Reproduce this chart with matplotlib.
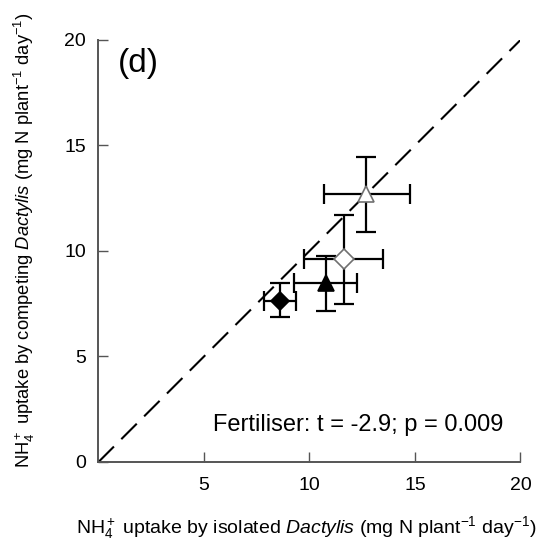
import matplotlib
matplotlib.use("Agg")
import matplotlib.pyplot as plt

plt.rcParams['font.family'] = ['Liberation Sans', 'DejaVu Sans']
plt.rcParams['mathtext.fontset'] = 'custom'
plt.rcParams['mathtext.rm'] = 'Liberation Sans'
plt.rcParams['mathtext.it'] = 'Liberation Sans:italic'

# NH4+ uptake (mg N plant-1 day-1): isolated (x) vs competing (y) Dactylis
labels = ['filled diamond', 'filled triangle', 'open diamond', 'open triangle']
iso_mean = [8.6, 10.78, 11.65, 12.7]
iso_lo = [7.83, 9.27, 9.74, 10.69]
iso_hi = [9.36, 12.27, 13.5, 14.76]
comp_mean = [7.63, 8.5, 9.62, 12.7]
comp_lo = [6.89, 7.17, 7.49, 10.9]
comp_hi = [8.47, 9.76, 11.7, 14.44]
markers = ['D', '^', 'D', '^']
faces = ['black', 'black', 'white', 'white']
edges = ['black', 'black', '#707070', '#707070']
sizes = [9.5, 12, 10, 12]

ticks = [0, 5, 10, 15, 20]

fig = plt.figure(figsize=(5.47, 5.47), dpi=100)
ax = fig.add_axes([0.180, 0.1554, 0.7715, 0.7715])

# 1:1 line
ax.plot([0, 20], [0, 20], color='black', lw=1.5, linestyle=(0, (10.5, 5)), zorder=1)

for i in range(len(labels)):
    xerr = [[iso_mean[i] - iso_lo[i]], [iso_hi[i] - iso_mean[i]]]
    yerr = [[comp_mean[i] - comp_lo[i]], [comp_hi[i] - comp_mean[i]]]
    ax.errorbar([iso_mean[i]], [comp_mean[i]], xerr=xerr, yerr=yerr,
                fmt='none', ecolor='black', elinewidth=1.6, capsize=7.5, capthick=1.6, zorder=2)
    ax.plot(iso_mean[i], comp_mean[i], marker=markers[i], ms=sizes[i],
            mfc=faces[i], mec=edges[i], mew=1.2, linestyle='none', zorder=3)

ax.set_xlim(0, 20)
ax.set_ylim(0, 20)
ax.set_xticks(ticks[1:])
ax.set_yticks(ticks)
for s in ['top', 'right']:
    ax.spines[s].set_visible(False)
for s in ['left', 'bottom']:
    ax.spines[s].set_color('#555555')
    ax.spines[s].set_linewidth(1.4)
ax.tick_params(direction='in', length=7, width=1, color='#555555', labelsize=14)
ax.tick_params(axis='x', pad=11)
ax.tick_params(axis='y', pad=9)

ax.text(0.9, 19.6, '(d)', fontsize=24, ha='left', va='top')
ax.text(5.43, 1.75, 'Fertiliser: t = -2.9; p = 0.009', fontsize=17, ha='left', va='center')

fig.text(306 / 547, 1 - 528 / 547,
         r'NH$_4^+$ uptake by isolated $\it{Dactylis}$ (mg N plant$^{-1}$ day$^{-1}$)',
         fontsize=14, ha='center', va='center')
fig.text(24 / 547, 1 - 240 / 547,
         r'NH$_4^+$ uptake by competing $\it{Dactylis}$ (mg N plant$^{-1}$ day$^{-1}$)',
         fontsize=13.2, ha='center', va='center', rotation=90)

fig.savefig('out.png', dpi=100)
